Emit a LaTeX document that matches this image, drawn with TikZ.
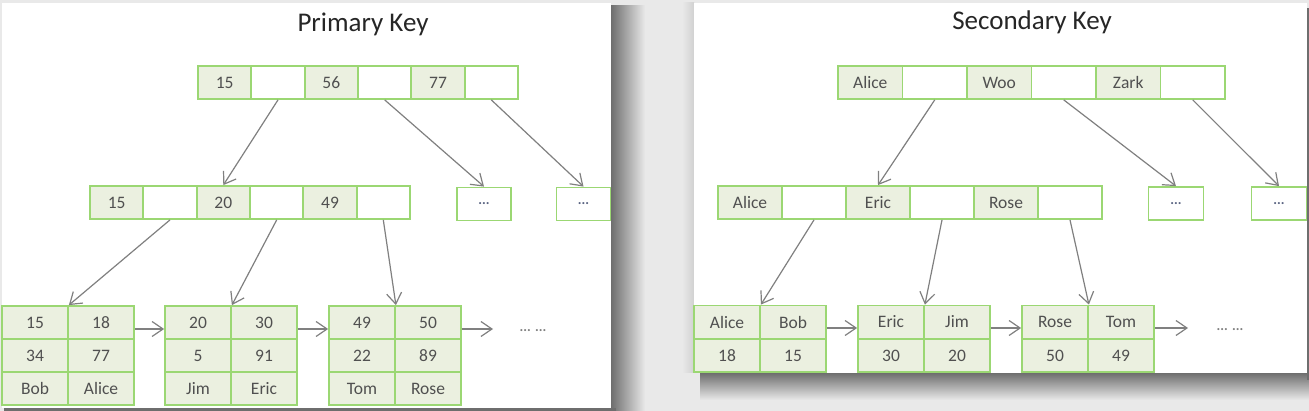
\documentclass[tikz,border=0pt]{standalone}
\usepackage{fontspec}
\setmainfont{Carlito}
\usetikzlibrary{arrows.meta}

\definecolor{cellgreen}{RGB}{155,215,115}
\definecolor{keyfill}{RGB}{235,240,224}
\definecolor{txtgray}{RGB}{80,80,80}
\definecolor{linkgray}{RGB}{128,128,128}
\definecolor{dotblue}{RGB}{90,100,130}
\definecolor{pagegray}{RGB}{233,233,233}
\definecolor{shadowgray}{RGB}{110,110,110}

\newcommand\cellfont{\fontsize{17.5}{17.5}\selectfont}
\newcommand\titlefont{\fontsize{27}{27}\selectfont}
\newcommand\dotfont{\fontsize{14}{14}\selectfont\bfseries}

\tikzset{
  cellbox/.style={draw=cellgreen, line width=1.8pt, minimum width=#1, minimum height=33pt, inner sep=0pt, text=txtgray, font=\cellfont},
  keycell/.style={cellbox=#1, fill=keyfill},
  ptrcell/.style={cellbox=#1, fill=white},
  dotbox/.style={cellbox=#1, fill=white, text=dotblue, font=\dotfont},
  link/.style={draw=linkgray, line width=1.2pt, -{Straight Barb[length=11pt,width=15pt]}},
  paneltitle/.style={font=\titlefont, text=black!85}
}

\begin{document}
\begin{tikzpicture}[x=1pt, y=-1pt]
\useasboundingbox (0,0) rectangle (1309,411);
\fill[pagegray] (0,0) rectangle (1309,411);
% shadows and sheets
\shade[left color=shadowgray, right color=pagegray] (611,6) rectangle (645,411);
\fill[shadowgray] (4,408) rectangle (616,411);
\shade[top color=shadowgray, bottom color=pagegray] (700,373) rectangle (1309,400);
\shade[left color=pagegray, right color=black!18] (682,3) rectangle (694,373);
\fill[shadowgray] (1307,8) rectangle (1309,380);
\fill[white] (2,3) rectangle (611,408);
\fill[white] (694,3) rectangle (1307,373);

% Primary Key
\node[paneltitle] (P Title) at (363,24) {Primary Key};
\node[keycell=53.3pt] (P Top 1) at (224.7,82.5) {15};
\node[ptrcell=53.3pt] (P Top 2) at (278,82.5) {};
\node[keycell=53.3pt] (P Top 3) at (331.3,82.5) {56};
\node[ptrcell=53.3pt] (P Top 4) at (384.7,82.5) {};
\node[keycell=53.3pt] (P Top 5) at (438,82.5) {77};
\node[ptrcell=53.3pt] (P Top 6) at (491.3,82.5) {};

\node[keycell=53.3pt] (P Mid 1) at (116.7,202.5) {15};
\node[ptrcell=53.3pt] (P Mid 2) at (170,202.5) {};
\node[keycell=53.3pt] (P Mid 3) at (223.3,202.5) {20};
\node[ptrcell=53.3pt] (P Mid 4) at (276.7,202.5) {};
\node[keycell=53.3pt] (P Mid 5) at (330,202.5) {49};
\node[ptrcell=53.3pt] (P Mid 6) at (383.3,202.5) {};
\node[dotbox=54pt] (P More 1) at (484,204) {...};
\node[dotbox=54pt] (P More 2) at (583.5,204) {...};

\node[keycell=66pt] (P Leaf 1 a1) at (35,322.5) {15};
\node[keycell=66pt] (P Leaf 1 b1) at (101,322.5) {18};
\node[keycell=66pt] (P Leaf 1 a2) at (35,355.5) {34};
\node[keycell=66pt] (P Leaf 1 b2) at (101,355.5) {77};
\node[keycell=66pt] (P Leaf 1 a3) at (35,388.5) {Bob};
\node[keycell=66pt] (P Leaf 1 b3) at (101,388.5) {Alice};

\node[keycell=66pt] (P Leaf 2 a1) at (198,322.5) {20};
\node[keycell=66pt] (P Leaf 2 b1) at (264,322.5) {30};
\node[keycell=66pt] (P Leaf 2 a2) at (198,355.5) {5};
\node[keycell=66pt] (P Leaf 2 b2) at (264,355.5) {91};
\node[keycell=66pt] (P Leaf 2 a3) at (198,388.5) {Jim};
\node[keycell=66pt] (P Leaf 2 b3) at (264,388.5) {Eric};

\node[keycell=66pt] (P Leaf 3 a1) at (362,322.5) {49};
\node[keycell=66pt] (P Leaf 3 b1) at (428,322.5) {50};
\node[keycell=66pt] (P Leaf 3 a2) at (362,355.5) {22};
\node[keycell=66pt] (P Leaf 3 b2) at (428,355.5) {89};
\node[keycell=66pt] (P Leaf 3 a3) at (362,388.5) {Tom};
\node[keycell=66pt] (P Leaf 3 b3) at (428,388.5) {Rose};

\coordinate (P End) at (493,329);
\node[text=linkgray, font=\dotfont] (P Rest) at (533,331) {... ...};

\draw[link] (P Top 2.south) -- (P Mid 3.north);
\draw[link] (P Top 4.south) -- (P More 1.north);
\draw[link] (P Top 6.south) -- (P More 2.north);
\draw[link] (P Mid 2.south) -- (P Leaf 1 a1.north east);
\draw[link] (P Mid 4.south) -- (P Leaf 2 a1.north east);
\draw[link] (P Mid 6.south) -- (P Leaf 3 a1.north east);
\draw[link] ([yshift=-6.5pt]P Leaf 1 b1.east) -- ([yshift=-6.5pt]P Leaf 2 a1.west);
\draw[link] ([yshift=-6.5pt]P Leaf 2 b1.east) -- ([yshift=-6.5pt]P Leaf 3 a1.west);
\draw[link] ([yshift=-6.5pt]P Leaf 3 b1.east) -- (P End);

% Secondary Key
\node[paneltitle] (S Title) at (1032,22) {Secondary Key};
\node[keycell=64.5pt] (S Top 1) at (870.25,82.5) {Alice};
\node[ptrcell=64.5pt] (S Top 2) at (934.75,82.5) {};
\node[keycell=64.5pt] (S Top 3) at (999.25,82.5) {Woo};
\node[ptrcell=64.5pt] (S Top 4) at (1063.75,82.5) {};
\node[keycell=64.5pt] (S Top 5) at (1128.25,82.5) {Zark};
\node[ptrcell=64.5pt] (S Top 6) at (1192.75,82.5) {};

\node[keycell=64pt] (S Mid 1) at (750,202.5) {Alice};
\node[ptrcell=64pt] (S Mid 2) at (814,202.5) {};
\node[keycell=64pt] (S Mid 3) at (878,202.5) {Eric};
\node[ptrcell=64pt] (S Mid 4) at (942,202.5) {};
\node[keycell=64pt] (S Mid 5) at (1006,202.5) {Rose};
\node[ptrcell=64pt] (S Mid 6) at (1070,202.5) {};
\node[dotbox=55pt] (S More 1) at (1176,203.5) {...};
\node[dotbox=55pt] (S More 2) at (1279,203.5) {...};

\node[keycell=66pt] (S Leaf 1 a1) at (727,322) {Alice};
\node[keycell=66pt] (S Leaf 1 b1) at (793,322) {Bob};
\node[keycell=66pt] (S Leaf 1 a2) at (727,355.5) {18};
\node[keycell=66pt] (S Leaf 1 b2) at (793,355.5) {15};

\node[keycell=66pt] (S Leaf 2 a1) at (891,322) {Eric};
\node[keycell=66pt] (S Leaf 2 b1) at (957,322) {Jim};
\node[keycell=66pt] (S Leaf 2 a2) at (891,355.5) {30};
\node[keycell=66pt] (S Leaf 2 b2) at (957,355.5) {20};

\node[keycell=66pt] (S Leaf 3 a1) at (1055,322) {Rose};
\node[keycell=66pt] (S Leaf 3 b1) at (1121,322) {Tom};
\node[keycell=66pt] (S Leaf 3 a2) at (1055,355.5) {50};
\node[keycell=66pt] (S Leaf 3 b2) at (1121,355.5) {49};

\coordinate (S End) at (1188,328);
\node[text=linkgray, font=\dotfont] (S Rest) at (1230,330) {... ...};

\draw[link] (S Top 2.south) -- (S Mid 3.north);
\draw[link] (S Top 4.south) -- (S More 1.north);
\draw[link] (S Top 6.south) -- (S More 2.north);
\draw[link] (S Mid 2.south) -- (S Leaf 1 a1.north east);
\draw[link] (S Mid 4.south) -- (S Leaf 2 a1.north east);
\draw[link] (S Mid 6.south) -- (S Leaf 3 a1.north east);
\draw[link] ([yshift=-6pt]S Leaf 1 b1.east) -- ([yshift=-6pt]S Leaf 2 a1.west);
\draw[link] ([yshift=-6pt]S Leaf 2 b1.east) -- ([yshift=-6pt]S Leaf 3 a1.west);
\draw[link] ([yshift=-6pt]S Leaf 3 b1.east) -- (S End);
\end{tikzpicture}
\end{document}
